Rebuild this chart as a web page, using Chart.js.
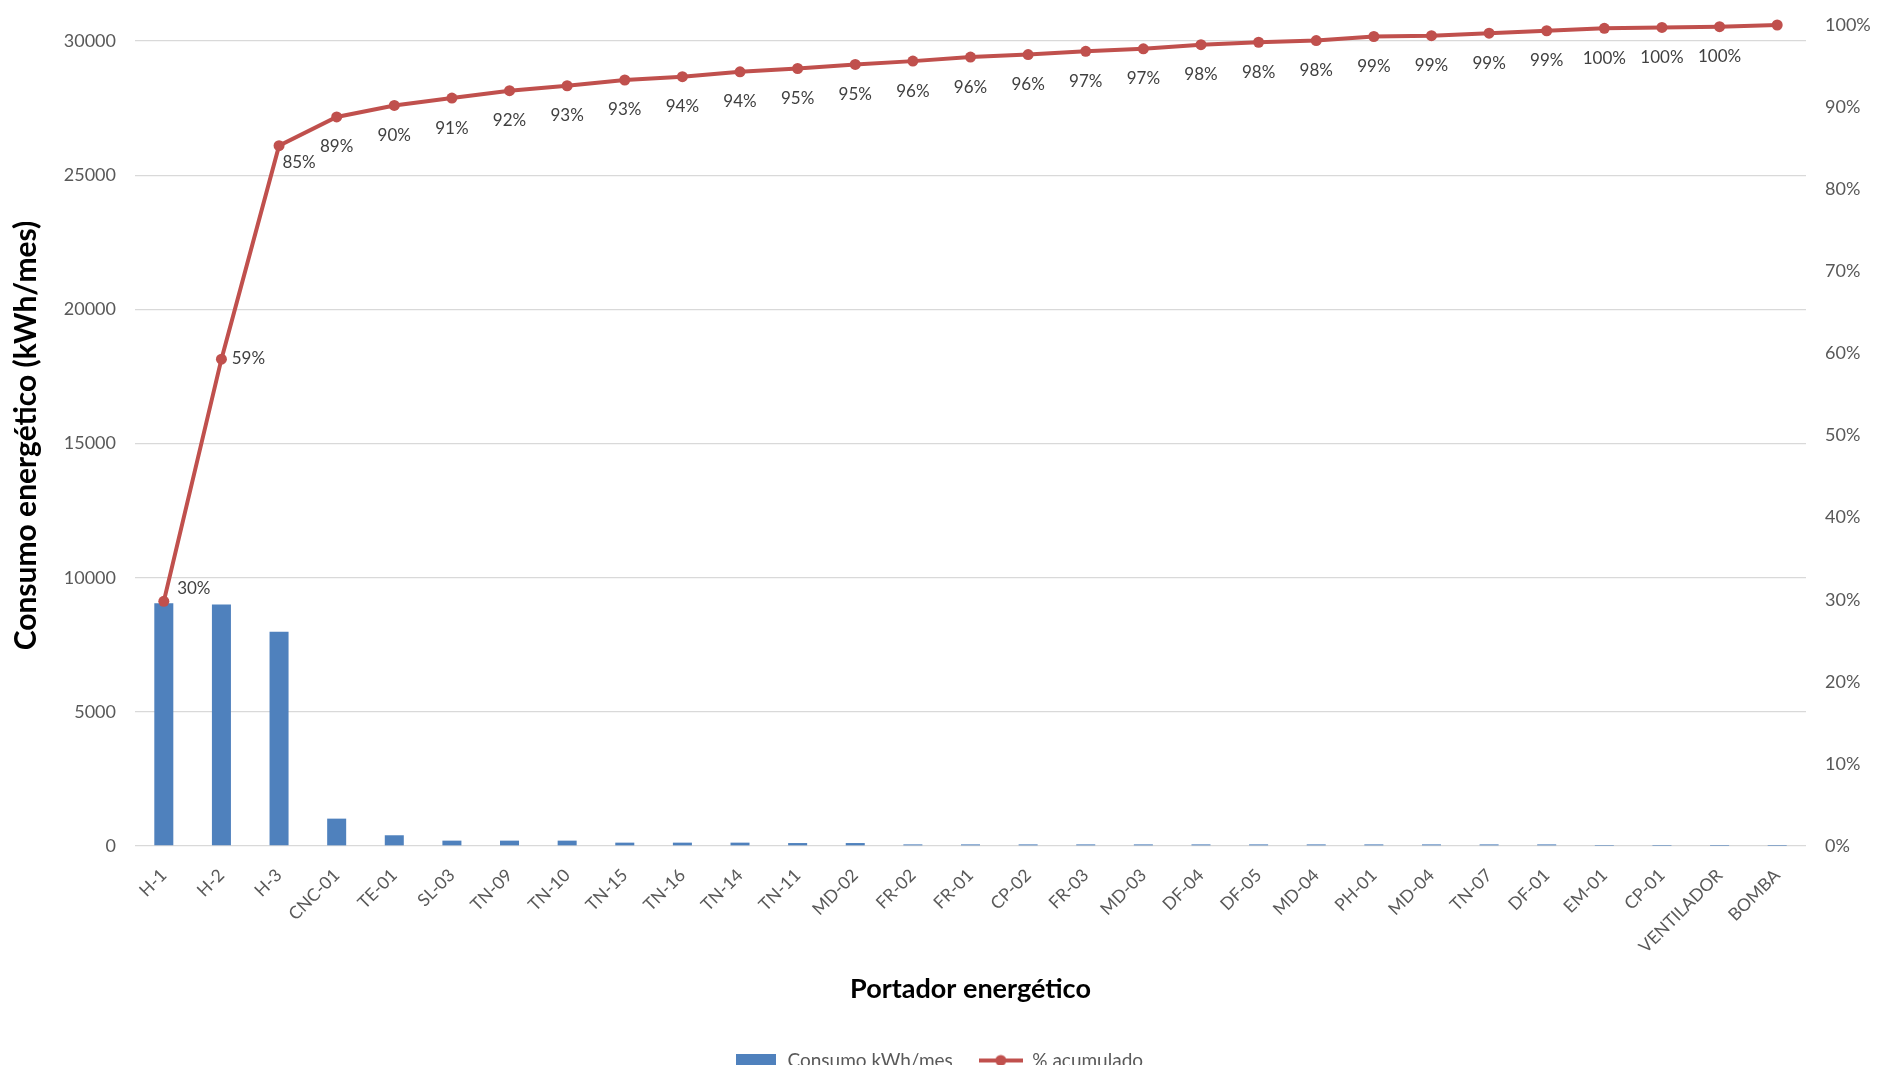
<!DOCTYPE html>
<html>
<head>
<meta charset="utf-8">
<title>Portador energético</title>
<script src="https://cdn.jsdelivr.net/npm/chart.js@4.4.0/dist/chart.umd.min.js"></script>
<style>
  html, body { margin: 0; padding: 0; background: #ffffff; overflow: hidden; }
  #wrap { width: 1877px; height: 1080px; position: relative; }
</style>
</head>
<body>
<div id="wrap"><canvas id="pareto"></canvas></div>
<script>
// Equipos ordenados de mayor a menor consumo
const categories = ['H-1', 'H-2', 'H-3', 'CNC-01', 'TE-01', 'SL-03', 'TN-09', 'TN-10', 'TN-15', 'TN-16',
  'TN-14', 'TN-11', 'MD-02', 'FR-02', 'FR-01', 'CP-02', 'FR-03', 'MD-03', 'DF-04', 'DF-05',
  'MD-04', 'PH-01', 'MD-04', 'TN-07', 'DF-01', 'EM-01', 'CP-01', 'VENTILADOR', 'BOMBA'];

// Consumo mensual de cada equipo (kWh/mes)
const consumo = [9050, 9000, 7990, 1020, 400, 200, 200, 200, 125, 125,
  125, 110, 110, 60, 60, 60, 60, 60, 60, 60,
  60, 60, 60, 60, 60, 5, 4, 3, 3];

// Porcentaje acumulado (%)
const acumulado = [29.8, 59.3, 85.3, 88.8, 90.2, 91.1, 92.0, 92.6, 93.3, 93.7,
  94.3, 94.7, 95.2, 95.6, 96.1, 96.4, 96.8, 97.1, 97.6, 97.9,
  98.1, 98.6, 98.7, 99.0, 99.3, 99.6, 99.7, 99.8, 100];

// Marcas de los ejes
const leftTicks = [0, 5000, 10000, 15000, 20000, 25000, 30000];
const rightTicks = [0, 10, 20, 30, 40, 50, 60, 70, 80, 90, 100];

const FONT = 'Lato, "Open Sans", "Noto Sans", sans-serif';
const BLUE = '#4F81BD';
const RED = '#C0504D';

// Iconos de la leyenda: rectángulo azul y línea roja con marcador
function makeIcon(kind) {
  const c = document.createElement('canvas');
  if (kind === 'bar') {
    c.width = 40; c.height = 14;
    const g = c.getContext('2d');
    g.fillStyle = BLUE;
    g.fillRect(0, 0, 40, 14);
  } else {
    c.width = 44; c.height = 14;
    const g = c.getContext('2d');
    g.strokeStyle = RED; g.lineWidth = 4;
    g.beginPath(); g.moveTo(0, 7); g.lineTo(44, 7); g.stroke();
    g.fillStyle = RED;
    g.beginPath(); g.arc(22, 7, 5.5, 0, Math.PI * 2); g.fill();
  }
  return c;
}
const legendIcons = [makeIcon('bar'), makeIcon('line')];

// Etiquetas de porcentaje junto a cada punto de la curva acumulada
const pctLabels = {
  id: 'pctLabels',
  afterDatasetsDraw(chart) {
    const meta = chart.getDatasetMeta(1);
    const ctx = chart.ctx;
    ctx.save();
    ctx.font = '17px ' + FONT;
    ctx.fillStyle = '#404040';
    ctx.textAlign = 'center';
    ctx.textBaseline = 'middle';
    meta.data.forEach((pt, i) => {
      if (i === meta.data.length - 1) return;
      let dx = 0, dy = 30;
      if (i === 0) { dx = 30; dy = -13; }
      else if (i === 1) { dx = 27; dy = -1; }
      else if (i === 2) { dx = 20; dy = 17; }
      ctx.fillText(Math.round(acumulado[i]) + '%', pt.x + dx, pt.y + dy);
    });
    ctx.restore();
  }
};

// Marcas invisibles que separan las etiquetas del área del gráfico
const hiddenTick = { drawTicks: true, tickLength: 16, tickColor: 'rgba(0,0,0,0)' };

new Chart(document.getElementById('pareto'), {
  data: {
    labels: categories,
    datasets: [
      {
        type: 'bar',
        label: 'Consumo kWh/mes',
        data: consumo,
        backgroundColor: BLUE,
        borderWidth: 0,
        yAxisID: 'y',
        order: 1,
        categoryPercentage: 1,
        barPercentage: 0.33
      },
      {
        type: 'line',
        label: '% acumulado',
        data: acumulado,
        borderColor: RED,
        backgroundColor: RED,
        borderWidth: 4,
        pointRadius: 5.5,
        pointHoverRadius: 5.5,
        pointBackgroundColor: RED,
        pointBorderWidth: 0,
        tension: 0,
        clip: false,
        yAxisID: 'y1',
        order: 0
      }
    ]
  },
  options: {
    responsive: true,
    maintainAspectRatio: false,
    animation: false,
    layout: { padding: { top: 25, left: 0, right: 0, bottom: 0 } },
    plugins: {
      tooltip: { enabled: false },
      legend: {
        position: 'bottom',
        labels: {
          usePointStyle: true,
          pointStyleWidth: 44,
          padding: 26,
          color: '#595959',
          font: { family: FONT, size: 19 },
          generateLabels: (chart) => chart.data.datasets.map((ds, i) => ({
            text: ds.label,
            pointStyle: legendIcons[i],
            fillStyle: ds.backgroundColor,
            strokeStyle: ds.borderColor || ds.backgroundColor,
            lineWidth: 0,
            hidden: false,
            datasetIndex: i,
            fontColor: '#595959'
          }))
        }
      }
    },
    scales: {
      x: {
        offset: true,
        grid: { display: false, drawTicks: false },
        border: { display: false },
        ticks: {
          autoSkip: false,
          maxRotation: 45,
          minRotation: 45,
          padding: 19,
          color: '#595959',
          font: { family: FONT, size: 17.5 }
        },
        title: {
          display: true,
          text: 'Portador energético',
          color: '#000000',
          font: { family: FONT, size: 27, weight: 'bold' },
          padding: { top: 0, bottom: 20 }
        },
        afterFit(scale) { scale.height = 179; }
      },
      y: {
        position: 'left',
        min: 0,
        max: 30600,
        afterBuildTicks(scale) { scale.ticks = leftTicks.map(v => ({ value: v })); },
        grid: Object.assign({ color: '#D9D9D9', lineWidth: 1.3 }, hiddenTick),
        border: { display: false },
        ticks: {
          padding: 3,
          color: '#595959',
          font: { family: FONT, size: 18 },
          callback: (v) => String(v)
        },
        title: {
          display: true,
          text: 'Consumo energético (kWh/mes)',
          color: '#000000',
          font: { family: FONT, size: 30, weight: 'bold' },
          padding: { top: 8, bottom: 0 }
        },
        afterFit(scale) { scale.width = 135; }
      },
      y1: {
        position: 'right',
        min: 0,
        max: 100,
        afterBuildTicks(scale) { scale.ticks = rightTicks.map(v => ({ value: v })); },
        grid: Object.assign({ drawOnChartArea: false }, hiddenTick),
        border: { display: false },
        ticks: {
          padding: 3,
          color: '#595959',
          font: { family: FONT, size: 18 },
          callback: (v) => v + '%'
        },
        afterFit(scale) { scale.width = 71; }
      }
    }
  },
  plugins: [pctLabels]
});
</script>
</body>
</html>
